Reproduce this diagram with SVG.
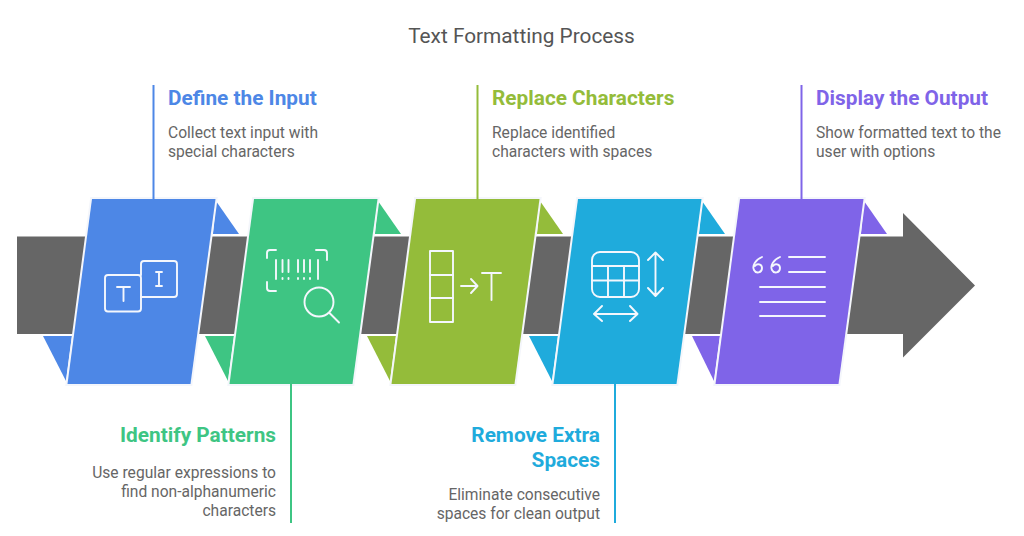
<svg xmlns="http://www.w3.org/2000/svg" width="1024" height="536" viewBox="0 0 1024 536">
<style>
text{font-family:"Roboto","Liberation Sans",sans-serif}
.title{font-size:20.8px;fill:#555}
.h{font-size:20.8px;font-weight:700}
.b{font-size:15.6px;fill:#666}
.panel{stroke:#f4f6fb;stroke-width:4;paint-order:stroke}
.ic{fill:none;stroke:#f4f7fd;stroke-width:1.9;stroke-linecap:round;stroke-linejoin:round}
.end{text-anchor:end}
</style>
<rect width="1024" height="536" fill="#fff"/>
<text class="title" x="521.500" y="43" text-anchor="middle">Text Formatting Process</text>
<path id="arrow" d="M17 236.500H903V213L975 285.500L903 357.500V334H17Z" fill="#666"/>
<g id="define-input">
<path d="M216 201L239 234H213Z" fill="#4d87e6"/><path d="M43 336H72L66 381Z" fill="#4d87e6"/>
<path class="panel" d="M92 199H215.500L190.500 384H67.500Z" fill="#4d87e6"/>
<g class="ic"><rect x="105" y="275" width="36" height="36.500" rx="3"/><path d="M141 297H174a3 3 0 0 0 3-3V264a3 3 0 0 0-3-3H144a3 3 0 0 0-3 3V275"/><path d="M117 287H130M123.500 287V301M156 272H162M159 272V286M156 286H162"/></g>
<text class="h" x="168" y="105" fill="#4d87e6">Define the Input</text>
<text class="b" x="168" y="137.500">Collect text input with</text><text class="b" x="168" y="156.500">special characters</text>
</g>
<g id="identify-patterns">
<path d="M378 201L401 234H375Z" fill="#3ec583"/><path d="M205 336H234L228 381Z" fill="#3ec583"/>
<path class="panel" d="M254 199H377.500L352.500 384H229.500Z" fill="#3ec583"/>
<g class="ic"><path d="M276 250H270a3 3 0 0 0-3 3V258M267 282V288a3 3 0 0 0 3 3H276M327 260V253a3 3 0 0 0-3-3H316"/><path d="M276 260V279M282.500 260V272M282.500 278V279M288.500 260V272M288.500 278V279M298 260V272M298 278V279M304 260V272M304 278V279M310 260V272M310 278V279M318 260V279"/><circle cx="319" cy="302" r="14.500"/><path d="M329.500 313L339 322.500"/></g>
<text class="h end" x="276" y="442" fill="#3ec583">Identify Patterns</text>
<text class="b end" x="276" y="477.500">Use regular expressions to</text><text class="b end" x="276" y="496.500">find non-alphanumeric</text><text class="b end" x="276" y="515.500">characters</text>
</g>
<g id="replace-characters">
<path d="M540 201L563 234H537Z" fill="#94bc3a"/><path d="M367 336H396L390 381Z" fill="#94bc3a"/>
<path class="panel" d="M416 199H539.500L514.500 384H391.500Z" fill="#94bc3a"/>
<g class="ic"><rect x="430" y="251" width="23" height="71"/><path d="M430 275H453M430 298H453M461 286H477M471 279L477.500 286L471 293M482 273H501M491.500 273V300"/></g>
<text class="h" x="492" y="105" fill="#94bc3a">Replace Characters</text>
<text class="b" x="492" y="137.500">Replace identified</text><text class="b" x="492" y="156.500">characters with spaces</text>
</g>
<g id="remove-extra-spaces">
<path d="M702 201L725 234H699Z" fill="#1fabdc"/><path d="M529 336H558L552 381Z" fill="#1fabdc"/>
<path class="panel" d="M578 199H701.500L676.500 384H553.500Z" fill="#1fabdc"/>
<g class="ic"><rect x="592" y="252" width="47" height="45" rx="8"/><path d="M592 266H639M592 280.500H639M608 266V297M624 266V297M655.500 253V295M648 260L655.500 252.500L663 260M648 288L655.500 296L663 288M595 314H637M602 306L594 314L602 321M630 306L637.500 314L630 321"/></g>
<text class="h end" x="600" y="442" fill="#1fabdc">Remove Extra</text><text class="h end" x="600" y="467" fill="#1fabdc">Spaces</text>
<text class="b end" x="600" y="499.500">Eliminate consecutive</text><text class="b end" x="600" y="518.500">spaces for clean output</text>
</g>
<g id="display-output">
<path d="M864 201L887 234H861Z" fill="#7f64e8"/><path d="M692 336H720L714 381Z" fill="#7f64e8"/>
<path class="panel" d="M740 199H863.500L838.500 384H715.500Z" fill="#7f64e8"/>
<g class="ic"><path d="M762 257C755 260 752 266 754 270C756 274 762 273 762 268C762 264 757 263 755 266M780 257C773 260 770 266 772 270C774 274 780 273 780 268C780 264 775 263 773 266M789 257H825M789 272H825M760 287H825M760 302H825M760 316H825"/></g>
<text class="h" x="816" y="105" fill="#7f64e8">Display the Output</text>
<text class="b" x="816" y="137.500">Show formatted text to the</text><text class="b" x="816" y="156.500">user with options</text>
</g>
<g id="connectors" stroke-width="2" fill="none">
<path d="M153.500 85V199" stroke="#4d87e6"/>
<path d="M291 384V523" stroke="#3ec583"/>
<path d="M477.500 85V199" stroke="#94bc3a"/>
<path d="M615 384V523" stroke="#1fabdc"/>
<path d="M801.500 85V199" stroke="#7f64e8"/>
</g>
</svg>
